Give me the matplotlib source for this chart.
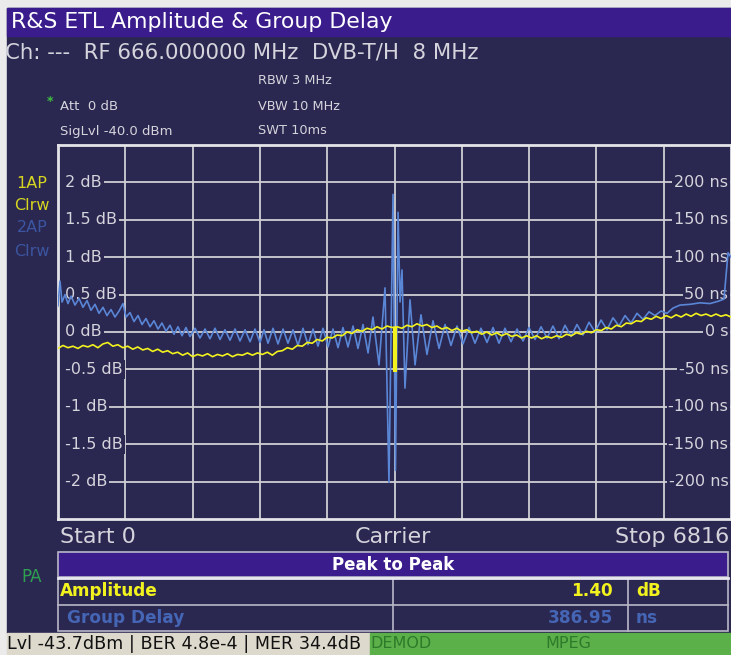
import matplotlib
matplotlib.use('Agg')
import matplotlib.pyplot as plt
from matplotlib.patches import Rectangle
import numpy as np

# ---------------- data ----------------
carrier_start, carrier_stop = 0, 6816
carrier_center = 3408
amp_ticks = [2, 1.5, 1, 0.5, 0, -0.5, -1, -1.5, -2]
amp_labels = ["2 dB", "1.5 dB", "1 dB", "0.5 dB", "0 dB", "-0.5 dB", "-1 dB", "-1.5 dB", "-2 dB"]
gd_ticks = [200, 150, 100, 50, 0, -50, -100, -150, -200]
gd_labels = ["200 ns", "150 ns", "100 ns", "50 ns", "0 s", "-50 ns", "-100 ns", "-150 ns", "-200 ns"]

# amplitude trace (dB), equally spaced carriers from start to stop
amplitude_db = [
    -0.22, -0.18, -0.21, -0.19, -0.22, -0.18, -0.20, -0.17, -0.21, -0.16,
    -0.14, -0.19, -0.17, -0.21, -0.19, -0.23, -0.20, -0.24, -0.22, -0.26,
    -0.23, -0.27, -0.25, -0.29, -0.27, -0.31, -0.28, -0.33, -0.30, -0.32,
    -0.29, -0.33, -0.30, -0.32, -0.29, -0.33, -0.30, -0.31, -0.28, -0.31,
    -0.28, -0.30, -0.27, -0.31, -0.26, -0.25, -0.21, -0.23, -0.18, -0.19,
    -0.14, -0.15, -0.10, -0.12, -0.07, -0.08, -0.04, -0.05, 0.00, -0.02,
    0.03, 0.01, 0.05, 0.03, 0.07, 0.04, 0.08, 0.06, 0.07, 0.05,
    0.09, 0.07, 0.11, 0.08, 0.10, 0.06, 0.08, 0.04, 0.06, 0.02,
    0.05, 0.01, 0.03, -0.01, 0.01, -0.03, 0.00, -0.04, -0.01, -0.05,
    -0.02, -0.06, -0.04, -0.08, -0.05, -0.08, -0.05, -0.09, -0.06, -0.08,
    -0.05, -0.07, -0.03, -0.05, -0.01, -0.03, 0.01, -0.01, 0.03, 0.02,
    0.06, 0.04, 0.09, 0.07, 0.12, 0.11, 0.15, 0.14, 0.19, 0.17,
    0.21, 0.18, 0.22, 0.19, 0.23, 0.20, 0.24, 0.21, 0.25, 0.22,
    0.24, 0.21, 0.24, 0.21, 0.23, 0.20,
]
notch_high_db, notch_low_db = 0.07, -0.53

# group delay trace (ns)
gd_carriers = [
    0, 20, 41, 71, 101, 132, 172, 213, 253, 294,
    334, 375, 415, 456, 496, 537, 577, 618, 658, 689,
    729, 770, 810, 851, 891, 932, 972, 1013, 1053, 1094,
    1134, 1175, 1215, 1256, 1296, 1337, 1388, 1438, 1489, 1539,
    1590, 1641, 1691, 1742, 1793, 1843, 1894, 1945, 1995, 2046,
    2086, 2127, 2178, 2228, 2279, 2329, 2380, 2431, 2481, 2532,
    2583, 2633, 2684, 2735, 2785, 2836, 2886, 2937, 2988, 3038,
    3089, 3140, 3190, 3251, 3312, 3352, 3393, 3418, 3444, 3464,
    3484, 3514, 3565, 3616, 3676, 3737, 3798, 3859, 3920, 3980,
    4041, 4102, 4163, 4223, 4284, 4345, 4406, 4466, 4527, 4588,
    4649, 4710, 4770, 4831, 4892, 4953, 5013, 5074, 5135, 5196,
    5256, 5317, 5378, 5439, 5500, 5560, 5621, 5682, 5743, 5803,
    5864, 5925, 5986, 6046, 6107, 6168, 6229, 6300, 6401, 6502,
    6603, 6684, 6745, 6786, 6816,
]
gd_ns = [
    35, 68, 40, 50, 38, 48, 36, 45, 33, 42,
    29, 37, 25, 33, 22, 30, 20, 28, 38, 20,
    26, 14, 22, 10, 18, 7, 15, 4, 12, 1,
    9, -3, 7, -5, 6, -6, 5, -8, 4, -9,
    5, -10, 3, -11, 4, -12, 3, -13, 4, -14,
    3, -15, 5, -16, 4, -15, 3, -18, 5, -17,
    4, -19, 5, -20, 4, -21, 6, -20, 8, -22,
    10, -28, 20, -44, 59, -201, 184, -185, 160, 40,
    83, -75, 43, -44, 23, -30, 15, -22, 10, -18,
    8, -16, 6, -15, 5, -14, 6, -15, 5, -13,
    4, -12, 6, -10, 7, -8, 8, -9, 9, -6,
    10, -4, 13, 0, 16, 3, 19, 8, 22, 12,
    25, 17, 27, 22, 28, 25, 32, 36, 37, 39,
    38, 41, 44, 106, 100,
]

# ---------------- colours ----------------
OUTER = '#ebebeb'
PANEL = '#2a2750'
TITLE = '#3b1c8c'
TXT = '#d4d4dc'
GRID = '#cfcfd4'
YEL = '#f2f21e'
BLUE = '#5a86d6'
DIMBLUE = '#3b55a0'

W, H = 731, 655
fig = plt.figure(figsize=(W / 100, H / 100), dpi=100, facecolor=OUTER)

bg = fig.add_axes([0, 0, 1, 1])
bg.set_xlim(0, W)
bg.set_ylim(H, 0)
bg.axis('off')

bg.add_patch(Rectangle((7, 8), W - 7, 625, color=PANEL, zorder=0))
bg.add_patch(Rectangle((7, 8), W - 7, 28, color=TITLE, zorder=1))
bg.text(11, 22, "R&S ETL Amplitude & Group Delay", color='white', fontsize=15.8,
        va='center', ha='left')
bg.text(5, 52, "Ch: ---  RF 666.000000 MHz  DVB-T/H  8 MHz", color=TXT, fontsize=15.3,
        va='center', ha='left')
for yy, s in [(81, "RBW 3 MHz"), (106, "VBW 10 MHz"), (131, "SWT 10ms")]:
    bg.text(258, yy, s, color=TXT, fontsize=9.3, va='center', ha='left')
bg.text(60, 106, "Att  0 dB", color=TXT, fontsize=9.5, va='center', ha='left')
bg.text(60, 131, "SigLvl -40.0 dBm", color=TXT, fontsize=9.5, va='center', ha='left')
bg.text(50, 102, "*", color='#3fc040', fontsize=9, va='center', ha='center', fontweight='bold')

for yy, s, c in [(183, "1AP", '#d6d620'), (205, "Clrw", '#d6d620'),
                 (228, "2AP", DIMBLUE), (251, "Clrw", DIMBLUE)]:
    bg.text(32, yy, s, color=c, fontsize=11.5, va='center', ha='center')

bg.text(60, 537, "Start 0", color=TXT, fontsize=16, va='center', ha='left')
bg.text(393, 537, "Carrier", color=TXT, fontsize=16, va='center', ha='center')
bg.text(729, 537, "Stop 6816", color=TXT, fontsize=16, va='center', ha='right')

# table
bg.add_patch(Rectangle((58, 552), 670, 25, facecolor=TITLE, edgecolor='#b8b8c8', lw=1.2, zorder=2))
bg.text(393, 565, "Peak to Peak", color='white', fontsize=12, fontweight='bold', va='center', ha='center', zorder=3)
bg.add_patch(Rectangle((58, 578), 670, 53, facecolor='none', edgecolor='#b8b8c8', lw=1.2, zorder=2))
bg.plot([58, 728], [604.5, 604.5], color='#b8b8c8', lw=1.2, zorder=2)
bg.plot([393, 393], [578, 631], color='#b8b8c8', lw=1.2, zorder=2)
bg.plot([628, 628], [578, 631], color='#b8b8c8', lw=1.2, zorder=2)
bg.plot([58, 728], [577.5, 577.5], color='#e8e8f0', lw=2, zorder=2)
bg.text(60, 591, "Amplitude", color=YEL, fontsize=12.2, fontweight='bold', va='center', ha='left')
bg.text(613, 591, "1.40", color=YEL, fontsize=12.2, fontweight='bold', va='center', ha='right')
bg.text(636, 591, "dB", color=YEL, fontsize=12.2, fontweight='bold', va='center', ha='left')
bg.text(67, 618, "Group Delay", color='#4565b5', fontsize=12.2, fontweight='bold', va='center', ha='left')
bg.text(613, 618, "386.95", color='#4565b5', fontsize=12.2, fontweight='bold', va='center', ha='right')
bg.text(636, 618, "ns", color='#4565b5', fontsize=12.2, fontweight='bold', va='center', ha='left')
bg.text(32, 577, "PA", color='#2fa050', fontsize=12, va='center', ha='center')

# status bar
bg.add_patch(Rectangle((7, 633), 363, 22, color='#ddd9cd', zorder=1))
bg.add_patch(Rectangle((370, 633), W - 370, 22, color='#5bb04a', zorder=1))
bg.text(7, 644, "Lvl -43.7dBm | BER 4.8e-4 | MER 34.4dB", color='#111111', fontsize=12.6,
        va='center', ha='left', zorder=3)
bg.text(370, 644, "DEMOD", color='#2d7a2a', fontsize=11.5, va='center', ha='left', zorder=3)
bg.text(568, 644, "MPEG", color='#2d7a2a', fontsize=11.5, va='center', ha='center', zorder=3)

# ---------------- plot ----------------
x0, x1, y0, y1 = 58, 731, 145, 519
ax = fig.add_axes([x0 / W, (H - y1) / H, (x1 - x0) / W, (y1 - y0) / H])
ax.set_facecolor(PANEL)
ax.set_xlim(carrier_start, carrier_stop)
ax.set_ylim(-2.5, 2.5)
ax.set_xticks(np.linspace(carrier_start, carrier_stop, 11)[1:-1])
ax.set_yticks(amp_ticks)
ax.tick_params(length=0, labelleft=False, labelbottom=False)
ax.grid(True, color=GRID, lw=1.3, zorder=1)
ax.set_axisbelow(True)
for sp in ax.spines.values():
    sp.set_color('#e4e4e8')
    sp.set_linewidth(2)

ax2 = ax.twinx()
ax2.set_ylim(-250, 250)
ax2.set_yticks([])
for sp in ax2.spines.values():
    sp.set_visible(False)

box = dict(boxstyle='square,pad=0.12', fc=PANEL, ec='none')
for v, s in zip(amp_ticks, amp_labels):
    ax.text(0.003, v, " " + s, transform=ax.get_yaxis_transform(), color=TXT, fontsize=11.5,
            va='center', ha='left', bbox=box, zorder=2)
for v, s in zip(gd_ticks, gd_labels):
    ax2.text(0.996, v, s, transform=ax2.get_yaxis_transform(), color=TXT, fontsize=11.5,
             va='center', ha='right', bbox=box, zorder=2)

amp_x = np.linspace(carrier_start, carrier_stop, len(amplitude_db))
ax2.plot(gd_carriers, gd_ns, color=BLUE, lw=1.2, zorder=4)
ax2.plot(amp_x, amplitude_db, color=YEL, lw=1.2, zorder=5, transform=ax.transData)
ax2.plot([carrier_center, carrier_center], [notch_high_db, notch_low_db], color=YEL, lw=3,
         zorder=5, transform=ax.transData, solid_capstyle='butt')

fig.savefig('out.png', dpi=100, facecolor=OUTER)
